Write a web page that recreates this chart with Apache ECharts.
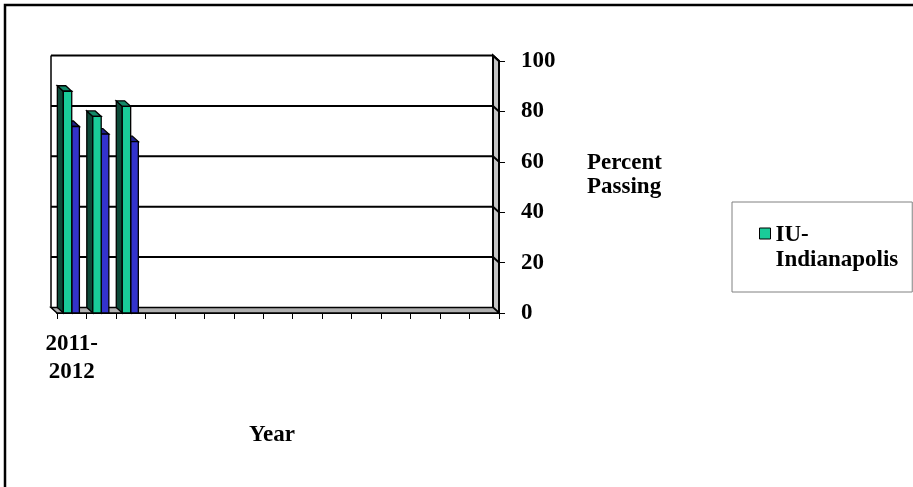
<!DOCTYPE html>
<html>
<head>
<meta charset="utf-8">
<script src="https://cdn.jsdelivr.net/npm/echarts@6/dist/echarts.min.js"></script>
<style>
  html, body { margin: 0; padding: 0; background: #fff; }
  #chart { width: 913px; height: 487px; }
</style>
</head>
<body>
<div id="chart"></div>
<script>
// School years along the floor of the chart (only the first one is populated)
const years = ['2011-2012', '', '', '', '', '', '', '', '', '', '', '', '', '', ''];
// Percent passing, IU-Indianapolis (green bars)
const passingIU = [88, 78, 82];
// Percent passing, comparison group (blue bars, not listed in the legend)
const passingComparison = [74, 71, 68];
// Value-axis ticks
const percentTicks = [0, 20, 40, 60, 80, 100];

const FONT = 'Liberation Serif';
const DX = 6;     // depth offset of the 3-D box, horizontal
const DY = 5.5;   // depth offset of the 3-D box, vertical

// Draws a 3-D column: front face, left side face and top face
function columnRenderer(front, side, top, leftFrac, rightFrac) {
  return function (params, api) {
    const i = api.value(0);
    const v = api.value(1);
    const base = api.coord([i, 0]);
    const peak = api.coord([i, v]);
    const w = api.size([1, 0])[0];
    const xa = base[0] + leftFrac * w;
    const xb = base[0] + rightFrac * w;
    const yb = base[1];
    const yt = peak[1];
    const edge = { stroke: '#000', lineWidth: 1.3 };
    return {
      type: 'group',
      children: [
        { type: 'polygon', shape: { points: [[xa, yt], [xa, yb], [xa - DX, yb - DY], [xa - DX, yt - DY]] },
          style: Object.assign({ fill: side }, edge) },
        { type: 'polygon', shape: { points: [[xa, yt], [xb, yt], [xb - DX, yt - DY], [xa - DX, yt - DY]] },
          style: Object.assign({ fill: top }, edge) },
        { type: 'rect', shape: { x: xa, y: yt, width: xb - xa, height: yb - yt },
          style: Object.assign({ fill: front }, edge) }
      ]
    };
  };
}

// Back wall, floor and right side wall of the 3-D plot box
function frameRenderer(params, api) {
  const cs = params.coordSys;
  const x0 = cs.x;
  const x1 = cs.x + cs.width;
  const v = api.value(1);
  const y = api.coord([0, v])[1];
  const y0 = api.coord([0, percentTicks[0]])[1];
  const yTop = api.coord([0, percentTicks[percentTicks.length - 1]])[1];
  const children = [];
  if (v === percentTicks[0]) {
    children.push(
      { type: 'polygon', shape: { points: [[x1 - DX, yTop - DY], [x1, yTop], [x1, y0], [x1 - DX, y0 - DY]] },
        style: { fill: '#c4c4c4', stroke: '#000', lineWidth: 2 } },
      { type: 'polygon', shape: { points: [[x0 - DX, y0 - DY], [x1 - DX, y0 - DY], [x1, y0], [x0, y0]] },
        style: { fill: '#b0b0b0', stroke: '#000', lineWidth: 1.5 } },
      { type: 'line', shape: { x1: x0 - DX, y1: yTop - DY, x2: x0 - DX, y2: y0 - DY },
        style: { stroke: '#000', lineWidth: 1.5 } }
    );
  } else {
    children.push(
      { type: 'polyline', shape: { points: [[x0 - DX, y - DY], [x1 - DX, y - DY], [x1, y]] },
        style: { stroke: '#000', lineWidth: 2, fill: null } }
    );
  }
  return { type: 'group', children: children };
}

const chart = echarts.init(document.getElementById('chart'), null, { renderer: 'canvas' });

const labelStyle = { fontFamily: FONT, fontWeight: 'bold', fontSize: 23, color: '#000' };

chart.setOption({
  backgroundColor: '#fff',
  animation: false,
  graphic: [
    { type: 'rect', shape: { x: 5, y: 5, width: 1000, height: 600 },
      style: { fill: null, stroke: '#000', lineWidth: 2.5 }, z: -10 }
  ],
  grid: { left: 57, right: 414, top: 61, bottom: 174, containLabel: false },
  legend: {
    data: ['IU-Indianapolis'],
    left: 732,
    top: 202,
    orient: 'vertical',
    padding: [21, 14, 19, 27],
    backgroundColor: '#fff',
    borderColor: '#808080',
    borderWidth: 1,
    icon: 'path://M0,0h11v11h-11z M0,40',
    itemWidth: 11,
    itemHeight: 40,
    itemStyle: { borderColor: '#000', borderWidth: 1 },
    formatter: function (name) { return name.replace('-', '-\n'); },
    textStyle: Object.assign({ lineHeight: 25 }, labelStyle),
    selectedMode: false
  },
  xAxis: {
    type: 'category',
    data: years,
    boundaryGap: true,
    name: 'Year',
    nameLocation: 'middle',
    nameGap: 111,
    nameTextStyle: Object.assign({ padding: [0, 12, 0, 0] }, labelStyle),
    axisLine: { show: true, lineStyle: { color: '#000', width: 2 } },
    axisTick: { show: true, length: 6, lineStyle: { color: '#000', width: 1 } },
    axisLabel: Object.assign({
      interval: 0,
      margin: 17,
      lineHeight: 28,
      formatter: function (v) { return v.replace('-', '-\n'); }
    }, labelStyle),
    splitLine: { show: false }
  },
  yAxis: {
    type: 'value',
    position: 'right',
    min: 0,
    max: 100,
    interval: 20,
    name: 'Percent\nPassing\n',
    nameLocation: 'middle',
    nameRotate: 0,
    nameGap: 88,
    nameTextStyle: Object.assign({ align: 'left', verticalAlign: 'middle', lineHeight: 23.5 }, labelStyle),
    axisLine: { show: true, lineStyle: { color: '#000', width: 2 } },
    axisTick: { show: true, length: 6, lineStyle: { color: '#000', width: 1 } },
    axisLabel: Object.assign({ margin: 22 }, labelStyle),
    splitLine: { show: false }
  },
  series: [
    {
      type: 'custom',
      name: 'frame',
      silent: true,
      z: 1,
      renderItem: frameRenderer,
      encode: { x: 0, y: 1 },
      data: percentTicks.map(function (t) { return [0, t]; })
    },
    {
      type: 'custom',
      name: 'Comparison group',
      z: 2,
      itemStyle: { color: '#3333CC' },
      renderItem: columnRenderer('#3333CC', '#1a1a80', '#22228a', 0, 0.26),
      encode: { x: 0, y: 1 },
      data: passingComparison.map(function (v, i) { return [i, v]; })
    },
    {
      type: 'custom',
      name: 'IU-Indianapolis',
      z: 3,
      itemStyle: { color: '#19CC99' },
      renderItem: columnRenderer('#19CC99', '#0c4a38', '#128a68', -0.285, 0),
      encode: { x: 0, y: 1 },
      data: passingIU.map(function (v, i) { return [i, v]; })
    }
  ]
});
</script>
</body>
</html>
